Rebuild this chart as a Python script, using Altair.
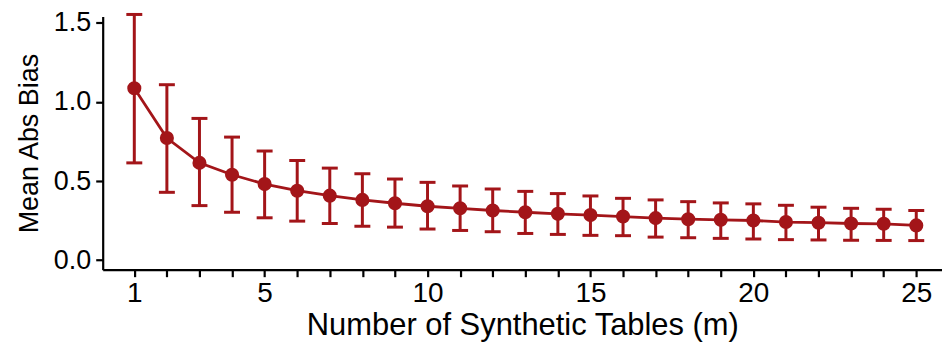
import altair as alt
import pandas as pd

m = list(range(1, 26))
mean_bias = [1.087, 0.772, 0.615, 0.540, 0.481, 0.439, 0.408, 0.381, 0.360, 0.341,
             0.328, 0.314, 0.303, 0.293, 0.285, 0.276, 0.266, 0.259, 0.255, 0.251,
             0.241, 0.237, 0.232, 0.230, 0.220]
upper = [1.553, 1.109, 0.896, 0.778, 0.690, 0.630, 0.582, 0.546, 0.513, 0.492,
         0.469, 0.450, 0.435, 0.421, 0.406, 0.391, 0.381, 0.370, 0.362, 0.356,
         0.347, 0.335, 0.328, 0.322, 0.314]
lower = [0.615, 0.429, 0.345, 0.303, 0.268, 0.247, 0.232, 0.215, 0.209, 0.197,
         0.188, 0.180, 0.169, 0.163, 0.157, 0.155, 0.146, 0.142, 0.138, 0.134,
         0.130, 0.128, 0.126, 0.125, 0.124]
x_tick_labels = [1, 5, 10, 15, 20, 25]
y_ticks = [0.0, 0.5, 1.0, 1.5]

df = pd.DataFrame({"m": m, "mean": mean_bias, "upper": upper, "lower": lower})

RED = "#A31519"
FONT = "Liberation Sans"

label_list = ",".join(str(v) for v in x_tick_labels)
xscale = alt.Scale(domain=[0.03, 25.79], nice=False, zero=False)
yscale = alt.Scale(domain=[-0.06, 1.54], nice=False, zero=False)

xaxis = alt.Axis(values=m, title="Number of Synthetic Tables (m)",
                 labelExpr=f"indexof([{label_list}], round(datum.value)) >= 0 ? '' + round(datum.value) : ''",
                 labelOverlap=False, labelBound=False, labelFlush=False,
                 labelFontSize=28, titleFontSize=31, tickSize=7,
                 labelPadding=3, titlePadding=3)
yaxis = alt.Axis(values=y_ticks, format=".1f", title="Mean Abs Bias",
                 labelOverlap=False,
                 labelFontSize=27, titleFontSize=27, tickSize=7,
                 labelPadding=5, titlePadding=10)

base = alt.Chart(df)

rules = base.mark_rule(color=RED, strokeWidth=3).encode(
    x=alt.X("m:Q", scale=xscale, axis=xaxis),
    y=alt.Y("lower:Q", scale=yscale, axis=yaxis), y2="upper:Q")
cap_hi = base.mark_tick(color=RED, thickness=3, size=16, orient="horizontal", opacity=1).encode(
    x=alt.X("m:Q", scale=xscale, axis=xaxis), y=alt.Y("upper:Q", scale=yscale, axis=yaxis))
cap_lo = base.mark_tick(color=RED, thickness=3, size=16, orient="horizontal", opacity=1).encode(
    x=alt.X("m:Q", scale=xscale, axis=xaxis), y=alt.Y("lower:Q", scale=yscale, axis=yaxis))
line = base.mark_line(color=RED, strokeWidth=2.8).encode(
    x=alt.X("m:Q", scale=xscale, axis=xaxis), y=alt.Y("mean:Q", scale=yscale, axis=yaxis))
pts = base.mark_circle(color=RED, size=200, opacity=1).encode(
    x=alt.X("m:Q", scale=xscale, axis=xaxis), y=alt.Y("mean:Q", scale=yscale, axis=yaxis))

chart = alt.layer(rules, cap_hi, cap_lo, line, pts).properties(
    width=842, height=254,
    autosize=alt.AutoSizeParams(type="none"),
    padding={"left": 95, "top": 8, "right": 0, "bottom": 74},
).configure_view(stroke=None).configure_axis(
    grid=False, domainColor="black", domainWidth=2.2, tickColor="black", tickWidth=2.2,
    labelColor="black", titleColor="black", labelFont=FONT, titleFont=FONT,
    titleFontWeight="normal", labelOverlap=False,
)

chart.save("out.html", embed_options={"renderer": "svg", "actions": False})
